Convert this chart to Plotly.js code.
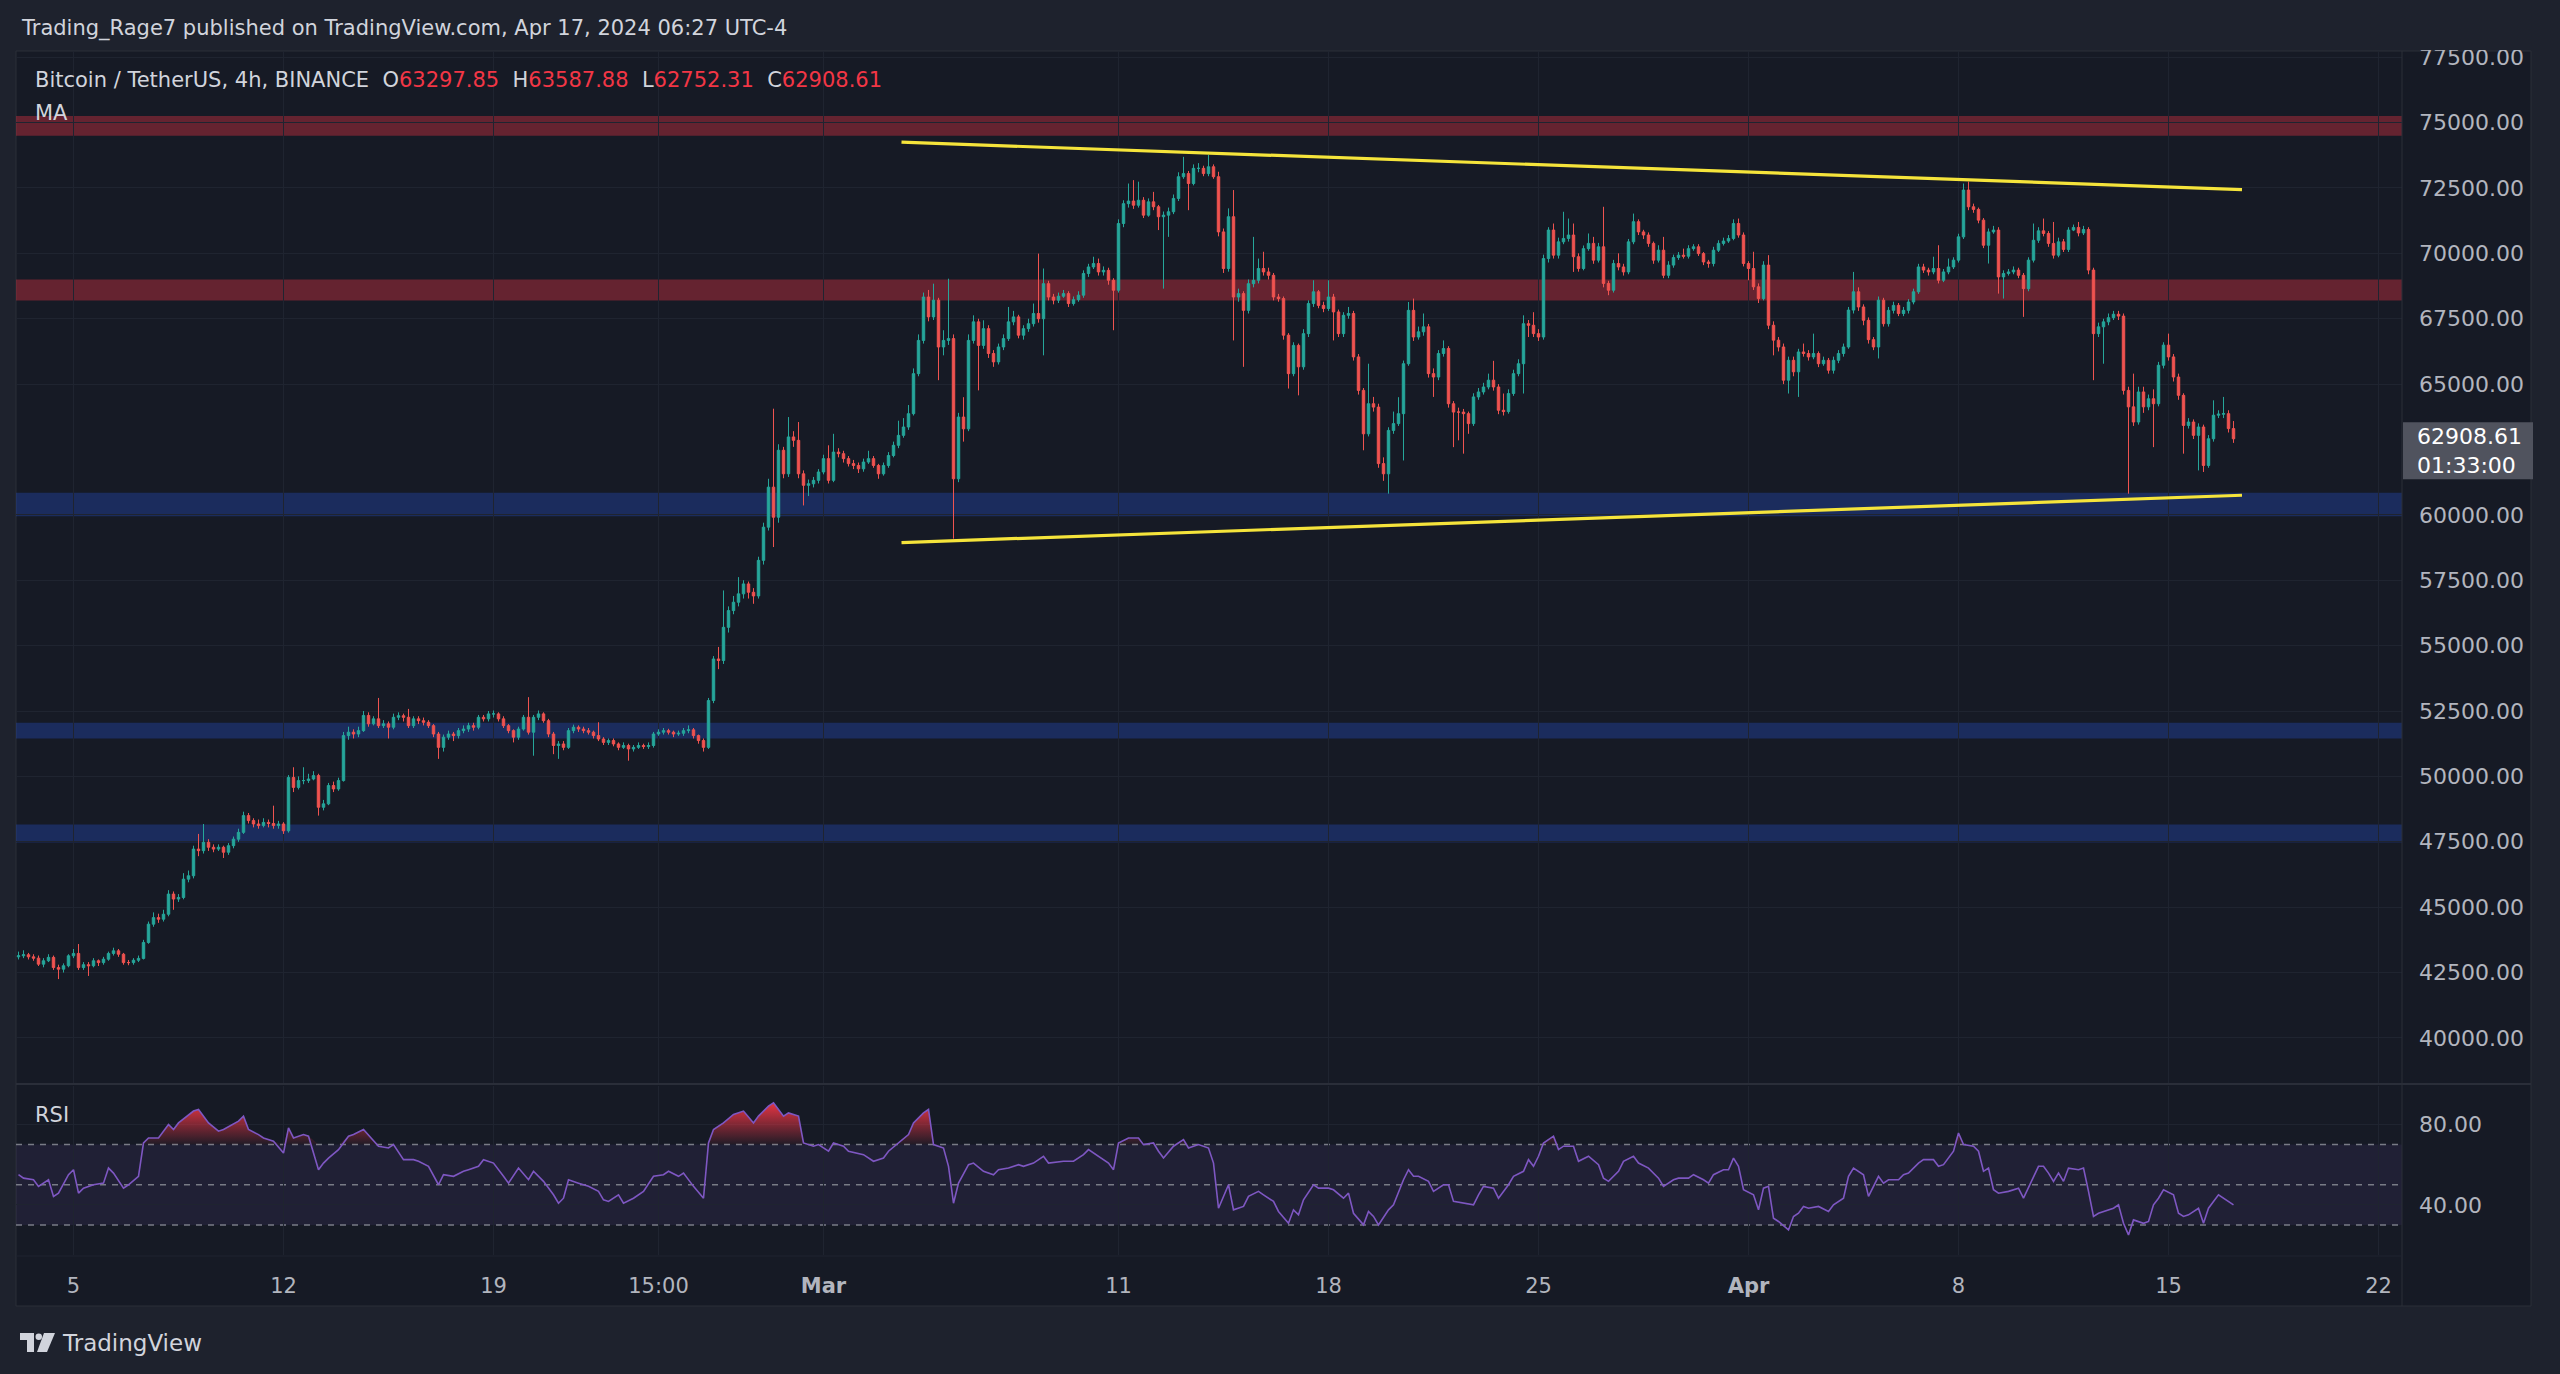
<!DOCTYPE html>
<html>
<head>
<meta charset="utf-8">
<script src="https://cdn.plot.ly/plotly-3.0.1.min.js"></script>
<style>
html,body{margin:0;padding:0;background:#1e222d;}
#chart{width:2560px;height:1374px;}
</style>
</head>
<body>
<div id="chart"></div>
<script>
// ---------------- DATA ----------------
// 4h candles, BTC/USDT Binance, bar index 0 = first visible bar
const firstOpen = 43100;
const closes = [
43140,43180,43100,43050,42820,42950,43080,42690,42630,42760,
43140,43230,42690,42800,42760,42950,42880,43010,43230,43330,
43200,42880,42880,42970,43040,43650,44350,44600,44540,44730,
45500,45310,45370,46070,46200,47220,47160,47480,47290,47220,
47290,47100,47350,47600,47860,48500,48310,48180,48120,48240,
48200,48120,48180,47920,49960,49580,49840,49840,49900,50030,
48820,48950,49650,49520,49840,51560,51690,51620,51750,52330,
52010,52200,51940,52010,51880,52260,52320,52260,51940,52200,
52130,52070,51940,51620,51110,51500,51620,51560,51750,51810,
51940,51880,52260,52200,52390,52390,52200,51940,51750,51500,
51810,52260,51690,52260,52390,52130,51620,51180,51240,51110,
51750,51880,51810,51750,51690,51560,51430,51300,51370,51240,
51110,51180,51050,51110,51180,51140,51180,51620,51690,51750,
51690,51620,51650,51750,51780,51560,51370,51110,52900,54490,
54430,55700,56340,56660,56980,57360,57040,56900,58260,59530,
61060,59910,62470,61570,62980,62850,61570,61130,61190,61320,
61640,62150,61320,62400,62340,62150,61960,61890,61760,62020,
62150,61890,61570,61890,62270,62660,63040,63360,63870,65400,
66670,68330,67570,68210,66420,66670,66740,61380,63740,63290,
66670,67380,66480,67120,66170,65850,66420,66740,67380,67570,
66870,67120,67310,67700,67500,68840,68330,68210,68360,68460,
68080,68230,68400,69230,69480,69610,69290,69350,68970,68590,
71140,71900,72000,71840,72030,71460,71970,71780,71400,71460,
71590,72100,72930,73050,72670,73250,73250,73050,73310,72930,
70820,69420,71400,68330,68460,67820,68840,68970,69420,69290,
69160,68330,68270,66870,65400,66480,65660,66930,68080,68530,
68010,67890,68330,67760,66930,67630,67700,66040,64760,63100,
64250,64120,61960,61570,63230,63490,63870,65780,67820,66800,
67000,67190,65400,65270,66170,66360,64250,63930,63930,63870,
63490,64510,64700,64890,65150,64890,64000,63950,64640,65400,
65780,67310,67250,66930,66800,69800,70890,69930,70440,70570,
70700,69870,69420,70180,70380,69740,70250,68850,68590,69610,
69480,69290,70440,71210,70820,70700,70380,69740,70120,69160,
69550,69840,69930,69890,70180,70250,69990,69670,69610,70120,
70380,70470,70570,71140,70700,69610,69420,68720,68270,69550,
67250,66680,66420,65150,65910,65470,66230,66170,66040,66170,
65780,65910,65530,65910,66170,66420,67830,68530,67950,67440,
66700,66420,68210,67310,67820,68010,67700,67820,68140,68530,
69480,69360,69290,69420,68970,69290,69480,69740,70630,72420,
71780,71680,71270,70310,70820,70890,69100,69230,69290,69360,
69160,68650,69740,70500,70860,70760,70380,69930,70440,70150,
70890,70990,70780,70910,69360,66930,67190,67380,67540,67670,
67600,64760,64130,63550,64700,64130,64440,64250,65720,66490,
66040,65270,64570,63420,63550,63040,63360,61890,62910,63810,
63850,63870,63297.85,62908.61
];
const highs = [
43300,43350,43250,43200,43150,43050,43200,43150,42800,42850,
43200,43400,43590,42900,42900,43050,43000,43100,43300,43450,
43400,43250,42980,43050,43150,43750,44450,44800,44750,44900,
45650,45600,45500,46300,46400,47350,47800,48180,47600,47400,
47400,47350,47450,47700,48000,48650,48600,48400,48350,48400,
48350,48880,48300,48250,50050,50350,50000,50350,50100,50200,
50100,49100,49750,49800,49950,51700,51900,51800,51900,52500,
52450,52300,53000,52150,52100,52400,52450,52400,52580,52300,
52300,52250,52150,52000,51700,51600,51750,51700,51850,51950,
52050,52050,52350,52350,52500,52520,52450,52300,52000,51800,
51900,52350,53030,52350,52520,52450,52200,51700,51350,51350,
51850,51980,51950,51900,51850,51750,52070,51500,51450,51450,
51300,51300,51250,51200,51300,51250,51300,51700,51800,51850,
51820,51750,51750,51850,51950,51850,51600,51450,53000,54600,
54950,57110,56500,56900,57620,57500,57450,57200,58400,59700,
61380,64060,62700,62600,63740,63200,63550,61700,61350,61450,
61750,62300,62660,63100,62550,62450,62250,62100,62000,62150,
62450,62250,61950,62000,62400,62800,63600,63700,64200,65600,
66900,68500,68600,68840,68300,67060,69030,66900,63900,64500,
66900,67630,67500,67440,67250,66300,66550,66900,67950,67800,
67650,67250,67500,68080,69990,69420,68950,68450,68500,68600,
68550,68350,68550,69350,69600,69870,69800,69500,69450,69050,
71300,72030,72670,72800,72740,72150,72100,72350,71850,71600,
71750,72250,73100,73690,73150,73400,73450,73350,73760,73400,
73120,70950,71720,72420,68650,68550,69000,70630,69800,70060,
69450,69250,68450,68350,66950,66600,66550,67100,68200,68970,
68600,68150,68970,68450,67850,67750,67950,67800,66150,64850,
65780,64510,64250,62200,63350,63950,64500,65900,68140,68270,
67200,67700,67300,65600,66300,66670,66450,64350,64100,64050,
63950,64650,64850,65050,65400,65890,65000,64640,64800,65550,
65950,67630,67450,67750,67100,69950,71000,71140,70600,71590,
71330,71140,70000,70300,70760,70630,70400,71780,68950,69750,
70000,69600,70550,71520,71300,70900,70800,70450,70310,70630,
69700,69950,70050,70180,70310,70350,70350,70050,69750,70250,
70500,70600,70700,71300,71330,70800,69700,70060,68850,69700,
69930,67400,66800,66550,66050,66050,66350,66550,66300,66930,
66250,66050,66000,66050,66300,66550,67950,69290,68700,68050,
67550,66800,68350,68300,67950,68150,68100,67950,68250,68650,
69600,69600,69450,69870,70310,69400,69800,69850,70750,72670,
72740,71900,71750,71350,70950,71050,71000,69350,69400,69500,
69450,69250,69850,71140,71000,71330,70850,71200,70600,70550,
71000,71100,71200,71050,71000,69450,67350,67500,67700,67800,
67800,67700,64900,65400,64900,64900,64600,64800,65850,66600,
66930,66150,65400,64650,63700,63650,63500,63450,63050,64380,
64000,64510,64000,63587.88
];
const lows = [
43000,43050,43000,42950,42750,42700,42900,42600,42250,42500,
42700,43050,42600,42600,42370,42700,42750,42800,42950,43150,
43100,42800,42780,42800,42900,43000,43600,44250,44400,44450,
44650,44900,45200,45300,45950,46100,46950,47050,47150,47100,
47150,46880,47000,47250,47500,47800,48200,48050,48000,48050,
48050,48000,48000,47800,47850,49400,49500,49700,49750,49850,
48500,48700,48900,49400,49450,49800,51400,51450,51500,51700,
51900,51950,51850,51850,51450,51800,52150,52100,51850,51850,
52000,51950,51850,51500,50670,50950,51400,51350,51450,51650,
51700,51750,51800,52100,52100,52250,52100,51850,51650,51300,
51400,51750,51600,50790,52150,52050,51500,50850,50670,51000,
51050,51650,51700,51650,51600,51450,51350,51200,51200,51150,
51000,51050,50600,50950,51050,51050,51050,51100,51550,51600,
51600,51500,51550,51550,51650,51450,51250,50950,51050,52800,
54100,54300,55500,56200,56500,56800,56800,56600,56800,58100,
59400,58770,59700,61400,61450,62600,61400,60360,60720,61050,
61200,61550,61200,61250,62200,62000,61850,61750,61600,61650,
61950,61800,61380,61500,61800,62200,62550,62950,63250,63800,
65300,66550,67400,67450,65150,66100,66500,59090,61250,62800,
63200,66550,64760,66350,66000,65660,65750,66300,66650,67250,
66750,66700,67000,67200,67350,66100,68200,68050,68100,68300,
67950,68000,68150,68300,69100,69400,69150,69150,68800,67060,
68500,71000,71750,71700,71750,71350,71400,71650,70890,68650,
70630,71500,72000,72850,71650,72600,73100,72950,72950,72850,
70650,69250,69300,66670,68150,65660,67700,68700,68850,69150,
69000,68200,68150,66700,64830,65300,64570,65550,66800,67950,
67900,67750,67800,66670,66800,66800,67500,65900,64600,62470,
63000,63950,61800,61300,60810,63100,63400,62080,65700,66650,
66700,66850,65250,64510,65150,66050,64100,62590,62850,62340,
63100,63400,64400,64600,64800,64750,63850,63800,63870,64550,
65300,64640,66800,66800,66650,66700,69650,69800,69800,70350,
70450,69290,69300,69350,70100,69600,69650,68700,68400,68500,
69350,69150,69200,70350,70700,70550,70250,69600,69650,69050,
69050,69450,69750,69800,69800,70100,69900,69550,69450,69500,
70050,70300,70400,70500,70600,69500,68970,68600,68100,68200,
67100,66100,66250,65000,64640,65300,64510,66050,65900,65950,
65650,65700,65400,65400,65800,66050,66350,67700,67800,67250,
66550,66300,65980,67200,67200,67700,67600,67600,67700,68050,
68450,69250,69150,69200,68850,68900,69200,69400,69650,70550,
71650,71550,71150,70200,69610,70750,68460,68270,69150,69200,
69050,67570,68550,69650,70400,70650,70250,69800,69850,70050,
70050,70850,70650,70700,69200,65150,66800,65780,67250,67450,
67450,64600,60810,63400,63450,63900,64000,62590,64150,65600,
65900,65100,64400,62340,63300,62900,61700,61640,61800,62800,
63700,63700,63150,62752.31
];

// RSI(14) readings: [bar index, value]
const rsiReadings = [
[0,55.0],[1,53.3],[3,52.5],[4,49.2],[6,52.5],[7,44.2],[8,45.8],[10,55.0],[11,57.5],[12,45.8],
[13,48.3],[15,50.0],[17,50.8],[18,58.3],[19,55.8],[21,48.3],[22,50.0],[24,54.2],[25,70.8],[26,73.3],
[28,73.3],[30,80.0],[31,77.5],[32,80.8],[35,86.7],[36,87.5],[38,80.8],[40,76.7],[41,77.5],[44,81.7],
[45,84.2],[46,77.5],[48,75.0],[49,73.3],[51,71.7],[53,65.8],[54,78.3],[55,73.3],[57,75.0],[58,74.2],
[60,57.5],[61,60.8],[62,63.3],[64,67.5],[66,74.2],[67,75.0],[69,77.5],[71,71.7],[72,69.2],[74,68.3],
[75,70.0],[77,62.5],[79,62.5],[80,61.7],[82,59.2],[84,50.0],[85,55.0],[87,54.2],[89,56.7],[90,57.5],
[92,59.2],[93,62.5],[95,60.8],[97,54.2],[98,50.8],[100,58.3],[102,52.5],[103,56.7],[105,51.7],[107,45.0],
[108,40.8],[109,43.3],[110,52.5],[112,50.8],[114,49.2],[116,46.7],[117,42.5],[118,41.7],[120,45.0],[121,40.8],
[123,43.3],[125,46.7],[127,54.2],[129,55.0],[130,56.7],[132,54.2],[133,55.8],[135,49.2],[137,43.3],[138,70.8],
[139,77.5],[141,80.8],[143,85.0],[145,86.7],[147,80.8],[148,84.2],[150,89.2],[151,90.8],[153,84.2],[154,85.8],
[156,84.2],[157,70.8],[159,69.2],[160,70.0],[162,66.7],[163,70.8],[165,69.2],[166,66.7],[168,65.8],[169,65.0],
[171,61.7],[173,63.3],[174,66.7],[176,70.8],[178,75.0],[179,80.8],[181,85.8],[182,87.5],[183,70.0],[185,68.3],
[186,59.2],[187,40.8],[188,50.8],[190,60.0],[191,60.8],[193,56.7],[195,55.0],[196,57.5],[198,58.3],[200,60.0],
[201,59.2],[203,60.8],[205,64.2],[206,60.8],[208,61.2],[209,61.7],[211,61.7],[213,65.0],[214,67.5],[216,64.2],
[218,60.8],[219,57.5],[220,70.8],[222,73.3],[224,73.3],[225,70.0],[227,70.8],[228,66.7],[229,63.3],[231,69.2],
[233,72.5],[234,68.3],[236,70.0],[238,68.3],[239,60.8],[240,38.3],[242,50.0],[243,37.5],[245,39.2],[246,44.2],
[248,46.7],[249,45.0],[251,41.7],[252,36.7],[254,30.8],[255,37.5],[256,35.0],[257,42.5],[259,50.0],[260,48.3],
[262,48.3],[263,47.5],[265,43.3],[266,45.8],[267,35.8],[269,30.0],[270,36.7],[271,34.2],[272,30.0],[274,37.5],
[275,40.0],[277,52.5],[278,57.5],[279,54.2],[280,54.2],[282,51.7],[283,46.7],[285,50.0],[286,50.0],[287,41.7],
[289,40.8],[291,40.0],[292,45.0],[293,49.2],[295,48.3],[296,43.3],[298,50.0],[299,54.2],[301,56.7],[302,62.5],
[303,59.2],[304,64.2],[305,70.8],[307,74.2],[308,67.5],[309,69.2],[311,69.2],[312,61.7],[314,64.2],[316,60.0],
[317,53.3],[318,51.7],[320,56.7],[321,61.7],[323,64.2],[324,60.8],[326,58.3],[327,55.8],[328,53.3],[329,49.2],
[331,52.5],[332,53.3],[334,53.3],[335,55.0],[337,52.5],[338,50.8],[339,55.0],[341,57.5],[342,57.5],[343,63.3],
[344,59.2],[345,47.5],[347,45.0],[348,37.5],[349,48.3],[350,49.2],[351,33.3],[352,31.7],[354,27.5],[355,34.2],
[356,35.8],[357,39.2],[358,38.3],[360,39.2],[362,36.7],[363,40.0],[365,43.3],[366,54.2],[367,58.3],[369,55.0],
[370,44.2],[372,54.2],[373,50.8],[374,52.5],[376,52.5],[377,55.0],[378,55.8],[380,60.8],[381,62.5],[383,62.5],
[384,59.2],[385,60.0],[387,66.7],[388,75.8],[389,70.0],[391,69.2],[392,66.7],[393,56.7],[394,58.3],[395,47.5],
[396,45.8],[398,46.7],[399,47.5],[400,48.3],[401,43.3],[403,54.2],[404,59.2],[405,59.2],[406,55.8],[407,51.7],
[408,55.8],[409,51.7],[410,58.3],[412,57.5],[413,58.3],[414,46.7],[415,34.2],[416,35.8],[417,36.7],[419,38.3],
[420,40.0],[421,30.8],[422,25.0],[423,32.5],[425,30.8],[426,31.7],[427,40.0],[428,43.3],[429,47.5],[431,45.0],
[432,35.8],[433,34.2],[434,35.0],[436,38.3],[437,30.8],[438,38.3],[440,45.0],[441,43.3],[443,40.0]
];

// Axis ticks (62500 is hidden behind the last-price label in the reference)
const priceTicks = [40000,42500,45000,47500,50000,52500,55000,57500,60000,65000,67500,70000,72500,75000,77500];
const rsiTicks = [40, 80];
const dayTickBars = [11, 53, 95, 128, 161, 220, 262, 304, 346, 388, 430, 472];
const dayTickLabels = ['5', '12', '19', '15:00', '<b>Mar</b>', '11', '18', '25', '<b>Apr</b>', '8', '15', '22'];

// Drawn levels (price ranges)
const resistanceZones = [[74500, 75250], [68200, 69000]];
const supportZones = [[59950, 60850], [51450, 52050], [47470, 48160]];
// Trendlines: [[bar, price], [bar, price]]
const upperTrendline = [[176.6, 74250], [444.7, 72440]];
const lowerTrendline = [[176.6, 58940], [444.7, 60750]];
// RSI levels
const rsiUpper = 70, rsiMiddle = 50, rsiLower = 30;
const barCountdown = '01:33:00';

// ---------------- LAYOUT HELPERS ----------------
const W = 2560, H = 1374;
const M = {l: 16, r: 158, t: 51, b: 119};
const PW = W - M.l - M.r, PH = H - M.t - M.b;
const px = v => (v - M.l) / PW;          // pixel x -> paper
const py = v => (H - M.b - v) / PH;      // pixel y -> paper

const UP = '#26a69a', DOWN = '#ef5350';
const INNER = '#161a25', OUTER = '#1e222d', GRID = '#1f2430', SEP = '#2a2e39';
const TXT = '#d1d4dc', AXT = '#b2b5be';
const AXFONT = 'DejaVu Sans, Roboto, sans-serif';

const bars = closes.map((_, i) => i);
const opens = closes.map((c, i) => (i === 0 ? firstOpen : closes[i - 1]));
const last = closes.length - 1;
const lastClose = closes[last];

const rsiX = rsiReadings.map(r => r[0]);
const rsiY = rsiReadings.map(r => r[1]);

const traces = [
  {
    type: 'candlestick', x: bars, open: opens, high: highs, low: lows, close: closes,
    xaxis: 'x', yaxis: 'y',
    increasing: {line: {color: UP, width: 1}, fillcolor: UP},
    decreasing: {line: {color: DOWN, width: 1}, fillcolor: DOWN},
    whiskerwidth: 0, hoverinfo: 'skip', showlegend: false
  },
  {
    type: 'scatter', mode: 'lines', x: rsiX, y: rsiX.map(() => rsiUpper),
    line: {width: 0, color: 'rgba(0,0,0,0)'}, xaxis: 'x', yaxis: 'y2', hoverinfo: 'skip', showlegend: false
  },
  {
    type: 'scatter', mode: 'lines', x: rsiX, y: rsiY.map(v => Math.max(v, rsiUpper)),
    line: {width: 0, color: 'rgba(0,0,0,0)'}, fill: 'tonexty',
    fillcolor: 'rgba(242,54,69,0.55)',
    fillgradient: {type: 'vertical', start: rsiUpper, stop: 91,
      colorscale: [[0, 'rgba(242,54,69,0.05)'], [1, 'rgba(242,54,69,0.95)']]},
    xaxis: 'x', yaxis: 'y2', hoverinfo: 'skip', showlegend: false
  },
  {
    type: 'scatter', mode: 'lines', x: rsiX, y: rsiY,
    line: {color: '#7e57c2', width: 1.6}, xaxis: 'x', yaxis: 'y2', hoverinfo: 'skip', showlegend: false
  }
];

const shapes = [];
// chart frame (covers price axis & time axis areas)
shapes.push({type: 'rect', xref: 'paper', yref: 'paper', x0: px(16), x1: px(2531), y0: py(1306), y1: py(51),
  fillcolor: INNER, line: {color: SEP, width: 1}, layer: 'below'});
// zones
resistanceZones.forEach(z => shapes.push({type: 'rect', xref: 'paper', yref: 'y', x0: 0, x1: 1, y0: z[0], y1: z[1],
  fillcolor: 'rgba(242,54,69,0.36)', line: {width: 0}, layer: 'below'}));
supportZones.forEach(z => shapes.push({type: 'rect', xref: 'paper', yref: 'y', x0: 0, x1: 1, y0: z[0], y1: z[1],
  fillcolor: 'rgba(41,98,255,0.26)', line: {width: 0}, layer: 'below'}));
// RSI band and levels
shapes.push({type: 'rect', xref: 'paper', yref: 'y2', x0: 0, x1: 1, y0: rsiLower, y1: rsiUpper,
  fillcolor: 'rgba(126,87,194,0.10)', line: {width: 0}, layer: 'below'});
[rsiUpper, rsiMiddle, rsiLower].forEach(v => shapes.push({type: 'line', xref: 'paper', yref: 'y2', x0: 0, x1: 1, y0: v, y1: v,
  line: {color: '#787b86', width: 1.5, dash: '6px,6px'}, layer: 'below'}));
// trendlines
[upperTrendline, lowerTrendline].forEach(t => shapes.push({type: 'line', xref: 'x', yref: 'y',
  x0: t[0][0], y0: t[0][1], x1: t[1][0], y1: t[1][1], line: {color: '#f5e43b', width: 3.2}, layer: 'above'}));
// separators
shapes.push({type: 'line', xref: 'paper', yref: 'paper', x0: px(16), x1: px(2531), y0: py(1084), y1: py(1084),
  line: {color: SEP, width: 2}, layer: 'above'});
shapes.push({type: 'line', xref: 'paper', yref: 'paper', x0: px(2402), x1: px(2402), y0: py(1306), y1: py(51),
  line: {color: SEP, width: 1}, layer: 'above'});
shapes.push({type: 'line', xref: 'paper', yref: 'paper', x0: px(16), x1: px(2402), y0: py(1256), y1: py(1256),
  line: {color: '#1f2330', width: 1}, layer: 'above'});
// cover above the frame (clips top price label)
shapes.push({type: 'rect', xref: 'paper', yref: 'paper', x0: -0.01, x1: 1.1, y0: py(50), y1: py(0),
  fillcolor: OUTER, line: {width: 0}, layer: 'above'});
// last price label box
shapes.push({type: 'rect', xref: 'paper', yref: 'y', ysizemode: 'pixel', yanchor: lastClose,
  x0: px(2403), x1: px(2533), y0: -40.5, y1: 16.5, fillcolor: '#50535e', line: {width: 0}, layer: 'above'});
// TradingView logo mark
const lx = 20, ly = 1333;
const P = (x, y) => `${px(lx + x)},${py(ly + y)}`;
shapes.push({type: 'path', xref: 'paper', yref: 'paper',
  path: `M${P(0,0)} L${P(14,0)} L${P(14,19)} L${P(7,19)} L${P(7,7)} L${P(0,7)} Z`,
  fillcolor: TXT, line: {width: 0}, layer: 'above'});
shapes.push({type: 'circle', xref: 'paper', yref: 'paper', x0: px(lx + 15.5), x1: px(lx + 22), y0: py(ly + 7), y1: py(ly + 0.5),
  fillcolor: TXT, line: {width: 0}, layer: 'above'});
shapes.push({type: 'path', xref: 'paper', yref: 'paper',
  path: `M${P(24,0)} L${P(35,0)} L${P(27,19)} L${P(17,19)} Z`,
  fillcolor: TXT, line: {width: 0}, layer: 'above'});

const red = t => `<span style="color:#f23645">${t}</span>`;
const annotations = [
  {xref: 'paper', yref: 'paper', x: px(19), y: py(29), xanchor: 'left', yanchor: 'middle', showarrow: false,
   text: 'Trading_Rage7 published on TradingView.com, Apr 17, 2024 06:27 UTC-4',
   font: {family: AXFONT, size: 21, color: TXT}},
  {xref: 'paper', yref: 'paper', x: px(33), y: py(80), xanchor: 'left', yanchor: 'middle', showarrow: false,
   text: 'Bitcoin / TetherUS, 4h, BINANCE  O' + red(opens[last].toFixed(2)) + '  H' + red(highs[last].toFixed(2)) +
         '  L' + red(lows[last].toFixed(2)) + '  C' + red(lastClose.toFixed(2)),
   font: {family: AXFONT, size: 21, color: TXT}},
  {xref: 'paper', yref: 'paper', x: px(33), y: py(113), xanchor: 'left', yanchor: 'middle', showarrow: false,
   text: 'MA', font: {family: AXFONT, size: 21, color: TXT}},
  {xref: 'paper', yref: 'paper', x: px(33), y: py(1115), xanchor: 'left', yanchor: 'middle', showarrow: false,
   text: 'RSI', font: {family: AXFONT, size: 21, color: TXT}},
  {xref: 'paper', yref: 'paper', x: px(60), y: py(1343), xanchor: 'left', yanchor: 'middle', showarrow: false,
   text: 'TradingView', font: {family: AXFONT, size: 23, color: TXT}},
  {xref: 'paper', yref: 'y', x: px(2415), y: lastClose, yshift: -12, xanchor: 'left', yanchor: 'middle', showarrow: false,
   align: 'left', text: lastClose.toFixed(2) + '<br>' + barCountdown,
   font: {family: AXFONT, size: 22, color: '#ffffff'}}
];

const layout = {
  width: W, height: H,
  margin: {l: M.l, r: M.r, t: M.t, b: M.b, pad: 0},
  paper_bgcolor: OUTER, plot_bgcolor: INNER,
  showlegend: false,
  xaxis: {
    domain: [0, 1], anchor: 'y2', range: [-0.5, 476.7], type: 'linear',
    rangeslider: {visible: false},
    tickmode: 'array', tickvals: dayTickBars, ticktext: dayTickLabels,
    showgrid: true, gridcolor: GRID, gridwidth: 1, zeroline: false, showline: false, ticks: '',
    tickfont: {family: AXFONT, size: 21, color: AXT}, ticklabelstandoff: 16, fixedrange: true
  },
  yaxis: {
    domain: [py(1084), 1], anchor: 'x', side: 'right', range: [38238, 77737],
    tickmode: 'array', tickvals: priceTicks, ticktext: priceTicks.map(v => v.toFixed(2)),
    showgrid: true, gridcolor: GRID, gridwidth: 1, zeroline: false, showline: false, ticks: '',
    tickfont: {family: AXFONT, size: 22, color: AXT}, ticklabelstandoff: 16, fixedrange: true
  },
  yaxis2: {
    domain: [0, py(1086)], anchor: 'x', side: 'right', range: [15, 99.2],
    tickmode: 'array', tickvals: rsiTicks, ticktext: rsiTicks.map(v => v.toFixed(2)),
    showgrid: true, gridcolor: GRID, gridwidth: 1, zeroline: false, showline: false, ticks: '',
    tickfont: {family: AXFONT, size: 22, color: AXT}, ticklabelstandoff: 16, fixedrange: true
  },
  shapes: shapes,
  annotations: annotations
};

Plotly.newPlot('chart', traces, layout, {staticPlot: true, displayModeBar: false});
</script>
</body>
</html>
